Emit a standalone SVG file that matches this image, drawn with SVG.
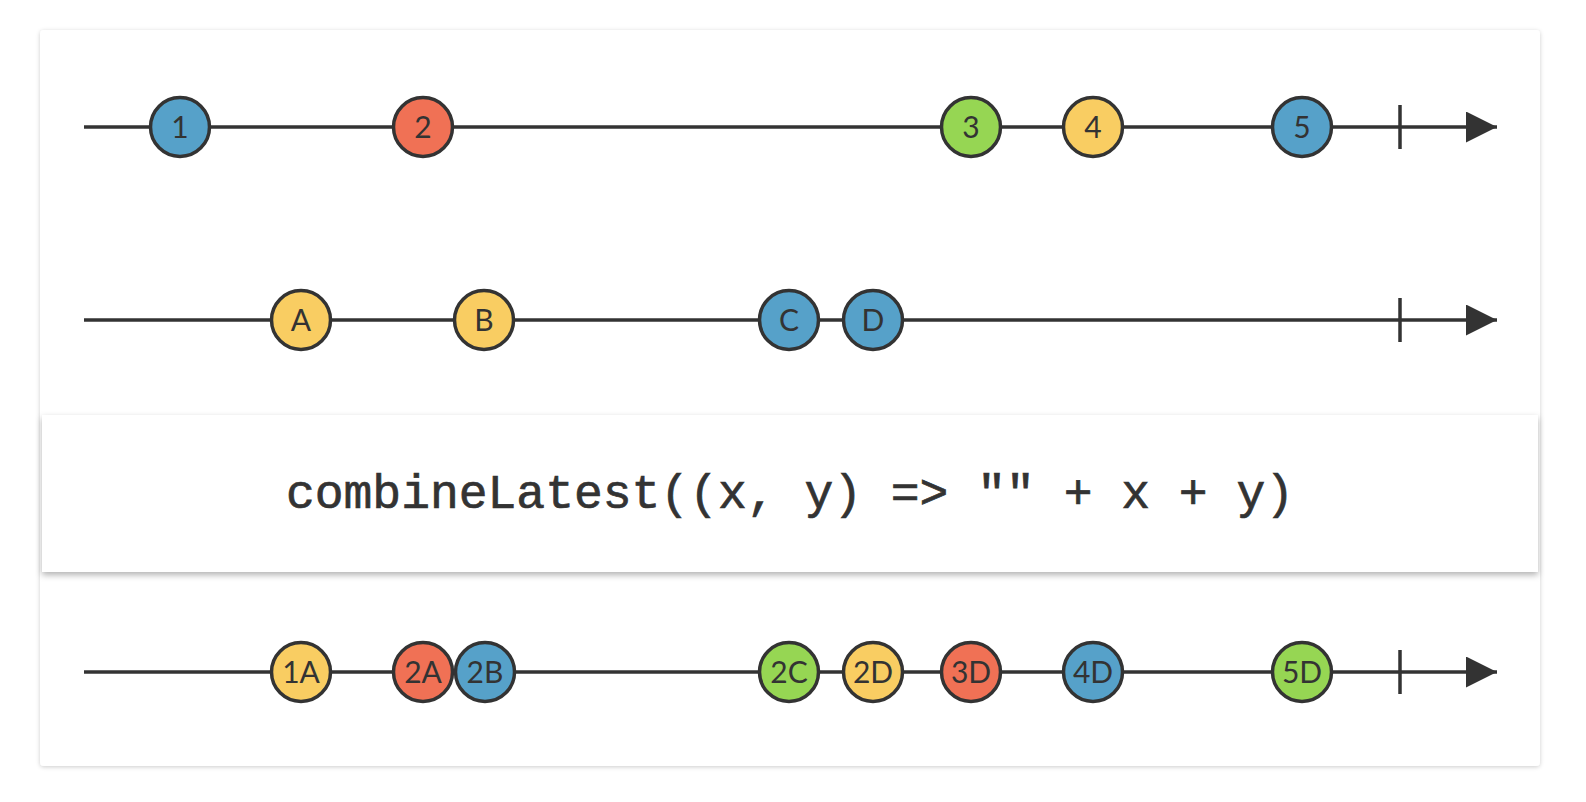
<svg xmlns="http://www.w3.org/2000/svg" width="1586" height="802" viewBox="0 0 1586 802">
  <defs>
    <filter id="cardShadow" x="-5%" y="-5%" width="110%" height="110%">
      <feDropShadow dx="0" dy="1" stdDeviation="2" flood-color="#000" flood-opacity="0.2"/>
    </filter>
    <filter id="boxShadow" x="-5%" y="-20%" width="110%" height="150%">
      <feDropShadow dx="0" dy="3" stdDeviation="3" flood-color="#000" flood-opacity="0.3"/>
    </filter>
    <marker id="arrow" viewBox="0 0 31 31" refX="31" refY="15.5" markerWidth="31" markerHeight="31" markerUnits="userSpaceOnUse" orient="auto">
      <path d="M0,0 L31,15.5 L0,31 Z" fill="#333"/>
    </marker>
  </defs>
  <style>
    .line { stroke: #333; stroke-width: 3.5; fill: none; }
    .tick { stroke: #333; stroke-width: 3.5; }
    .m circle { stroke: #333; stroke-width: 3.5; }
    .m text { font-family: "Lato", "Open Sans", sans-serif; font-size: 30px; fill: #333; text-anchor: middle; }
    .blue { fill: #56A1C9; }
    .red { fill: #F07155; }
    .green { fill: #96D653; }
    .yellow { fill: #F9CD62; }
    .op { font-family: "Courier New", "Liberation Mono", monospace; font-size: 48px; fill: #333; stroke: #333; stroke-width: 0.7; text-anchor: middle; }
  </style>
  <rect width="1586" height="802" fill="#ffffff"/>
  <rect id="card" x="40" y="30" width="1500" height="736" rx="4" fill="#fff" filter="url(#cardShadow)"/>

  <g id="connectors">
    <line class="line" x1="84" y1="127" x2="1497" y2="127" marker-end="url(#arrow)"/>
    <line class="tick" x1="1400" y1="105" x2="1400" y2="149"/>
    <line class="line" x1="84" y1="320" x2="1497" y2="320" marker-end="url(#arrow)"/>
    <line class="tick" x1="1400" y1="298" x2="1400" y2="342"/>
    <line class="line" x1="84" y1="672" x2="1497" y2="672" marker-end="url(#arrow)"/>
    <line class="tick" x1="1400" y1="650" x2="1400" y2="694"/>
  </g>

  <g id="operator">
    <rect x="42" y="415" width="1496" height="157" fill="#fff" filter="url(#boxShadow)"/>
    <text class="op" x="790" y="508">combineLatest((x, y) =&gt; "" + x + y)</text>
  </g>

  <g id="n1" class="m"><circle class="blue" cx="180" cy="127" r="29.5"/><text x="180" y="138">1</text></g>
  <g id="n2" class="m"><circle class="red" cx="423" cy="127" r="29.5"/><text x="423" y="138">2</text></g>
  <g id="n3" class="m"><circle class="green" cx="971" cy="127" r="29.5"/><text x="971" y="138">3</text></g>
  <g id="n4" class="m"><circle class="yellow" cx="1093" cy="127" r="29.5"/><text x="1093" y="138">4</text></g>
  <g id="n5" class="m"><circle class="blue" cx="1302" cy="127" r="29.5"/><text x="1302" y="138">5</text></g>

  <g id="nA" class="m"><circle class="yellow" cx="301" cy="320" r="29.5"/><text x="301" y="331">A</text></g>
  <g id="nB" class="m"><circle class="yellow" cx="484" cy="320" r="29.5"/><text x="484" y="331">B</text></g>
  <g id="nC" class="m"><circle class="blue" cx="789" cy="320" r="29.5"/><text x="789" y="331">C</text></g>
  <g id="nD" class="m"><circle class="blue" cx="873" cy="320" r="29.5"/><text x="873" y="331">D</text></g>

  <g id="n1A" class="m"><circle class="yellow" cx="301" cy="672" r="29.5"/><text x="301" y="683">1A</text></g>
  <g id="n2A" class="m"><circle class="red" cx="423" cy="672" r="29.5"/><text x="423" y="683">2A</text></g>
  <g id="n2B" class="m"><circle class="blue" cx="485" cy="672" r="29.5"/><text x="485" y="683">2B</text></g>
  <g id="n2C" class="m"><circle class="green" cx="789" cy="672" r="29.5"/><text x="789" y="683">2C</text></g>
  <g id="n2D" class="m"><circle class="yellow" cx="873" cy="672" r="29.5"/><text x="873" y="683">2D</text></g>
  <g id="n3D" class="m"><circle class="red" cx="971" cy="672" r="29.5"/><text x="971" y="683">3D</text></g>
  <g id="n4D" class="m"><circle class="blue" cx="1093" cy="672" r="29.5"/><text x="1093" y="683">4D</text></g>
  <g id="n5D" class="m"><circle class="green" cx="1302" cy="672" r="29.5"/><text x="1302" y="683">5D</text></g>
</svg>
